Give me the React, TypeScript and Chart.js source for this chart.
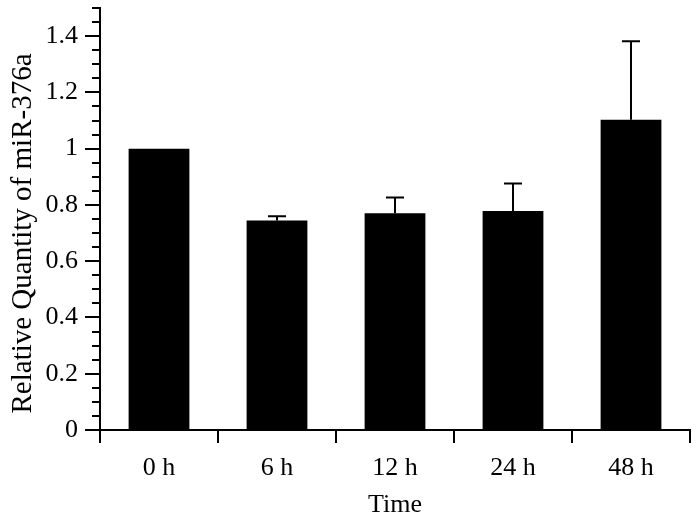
import React, { useEffect, useRef } from "react";
import { Chart, registerables } from "chart.js";

Chart.register(...registerables);

const categories = ["0 h", "6 h", "12 h", "24 h", "48 h"];
const values = [1.0, 0.745, 0.77, 0.778, 1.103];
const errors = [0, 0.015, 0.056, 0.098, 0.279];
const majorTicks = [0, 0.2, 0.4, 0.6, 0.8, 1, 1.2, 1.4];
const minorTicks = [0.05, 0.1, 0.15, 0.25, 0.3, 0.35, 0.45, 0.5, 0.55, 0.65, 0.7, 0.75, 0.85, 0.9, 0.95, 1.05, 1.1, 1.15, 1.25, 1.3, 1.35, 1.45, 1.5];

const FONT = "'Liberation Serif', 'Times New Roman', serif";

const errorBarPlugin = {
  id: "errorBars",
  afterDatasetsDraw(chart: any) {
    const ctx = chart.ctx;
    const meta = chart.getDatasetMeta(0);
    const y = chart.scales.y;
    ctx.save();
    ctx.strokeStyle = "#000";
    ctx.lineWidth = 2;
    meta.data.forEach((bar: any, i: number) => {
      const e = errors[i];
      if (!e) return;
      const x = bar.x;
      const y0 = y.getPixelForValue(values[i]);
      const y1 = y.getPixelForValue(values[i] + e);
      ctx.beginPath();
      ctx.moveTo(x, y0);
      ctx.lineTo(x, y1);
      ctx.moveTo(x - 9, y1);
      ctx.lineTo(x + 9, y1);
      ctx.stroke();
    });
    ctx.restore();
  },
};

const minorTickPlugin = {
  id: "minorTicks",
  afterDraw(chart: any) {
    const ctx = chart.ctx;
    const y = chart.scales.y;
    const left = chart.chartArea.left;
    ctx.save();
    ctx.strokeStyle = "#000";
    ctx.lineWidth = 2;
    ctx.beginPath();
    minorTicks.forEach((v) => {
      const py = Math.round(y.getPixelForValue(v));
      ctx.moveTo(left - 8, py);
      ctx.lineTo(left, py);
    });
    ctx.stroke();
    ctx.restore();
  },
};

export default function App() {
  const ref = useRef<HTMLCanvasElement>(null);
  useEffect(() => {
    if (!ref.current) return;
    const chart = new Chart(ref.current, {
      type: "bar",
      data: {
        labels: categories,
        datasets: [
          {
            data: values,
            backgroundColor: "#000",
            borderWidth: 0,
            barPercentage: 0.515,
            categoryPercentage: 1,
          },
        ],
      },
      options: {
        animation: false,
        responsive: false,
        maintainAspectRatio: false,
        layout: { padding: { left: 0, right: 8, top: 8, bottom: 0 } },
        plugins: { legend: { display: false }, tooltip: { enabled: false } },
        scales: {
          x: {
            type: "category",
            offset: true,
            grid: {
              offset: true,
              drawOnChartArea: false,
              tickLength: 13,
              color: "#000",
              lineWidth: 2,
            },
            border: { color: "#000", width: 2 },
            ticks: {
              color: "#000",
              font: { family: FONT, size: 26 },
              padding: 10,
              maxRotation: 0,
            },
            title: {
              display: true,
              text: "Time",
              color: "#000",
              font: { family: FONT, size: 26 },
              padding: { top: 0, bottom: 2 },
            },
            afterFit: (s: any) => {
              s.height = 93;
              s.paddingLeft = 0;
              s.paddingRight = 0;
            },
          },
          y: {
            min: 0,
            max: 1.5,
            afterBuildTicks: (s: any) => {
              s.ticks = majorTicks.map((v) => ({ value: v }));
            },
            grid: {
              drawOnChartArea: false,
              tickLength: 15,
              color: "#000",
              lineWidth: 2,
            },
            border: { color: "#000", width: 2 },
            ticks: {
              color: "#000",
              font: { family: FONT, size: 26 },
              padding: 7,
              callback: (v: any) => String(Number(v)),
            },
            title: {
              display: true,
              text: "Relative Quantity of miR-376a\u00a0\u00a0\u00a0\u00a0",
              color: "#000",
              font: { family: FONT, size: 29 },
              padding: { top: 6, bottom: 0 },
            },
            afterFit: (s: any) => {
              s.width = 100;
              s.paddingTop = 0;
              s.paddingBottom = 0;
            },
          },
        },
      },
      plugins: [errorBarPlugin, minorTickPlugin],
    });
    return () => chart.destroy();
  }, []);
  return (
    <div style={{ position: "absolute", left: 0, top: 0, width: 698, height: 523, background: "#fff" }}>
      <canvas ref={ref} width={698} height={523} style={{ width: 698, height: 523 }} />
    </div>
  );
}
